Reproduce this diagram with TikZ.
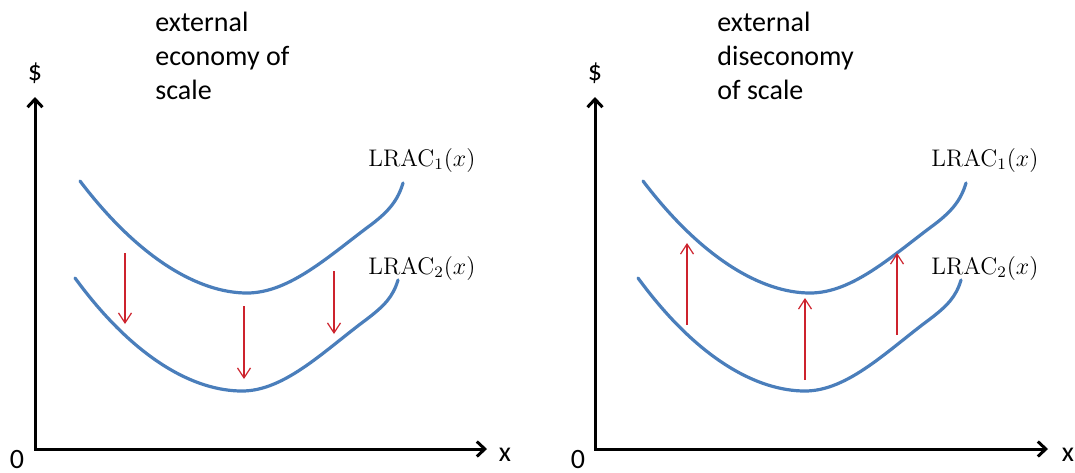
\documentclass[tikz,border=0pt]{standalone}
\usepackage[no-math]{fontspec}
\setmainfont{Carlito}
\usetikzlibrary{arrows.meta}
\definecolor{curveblue}{RGB}{74,126,187}
\definecolor{arrowred}{RGB}{205,35,45}
\tikzset{
  axisline/.style={line width=1.5pt,-{Straight Barb[length=4pt,width=7.5pt,line width=1.5pt]}},
  costcurve/.style={curveblue,line width=1.6pt,line cap=round},
  shiftarrow/.style={arrowred,line width=0.6pt,-{Straight Barb[length=5pt,width=6.5pt,line width=0.6pt]}},
  titletext/.style={font=\fontsize{14}{17}\selectfont,align=left,anchor=north west,inner sep=0pt},
  axlabel/.style={font=\fontsize{14}{17}\selectfont,inner sep=0pt},
  curvelabel/.style={font=\fontsize{11.5}{14}\selectfont,anchor=west,inner sep=0pt}
}
\newcommand{\upperLRAC}{(80,181) .. controls (140,260) and (200,293) .. (247,293) .. controls (290,293) and (330,255) .. (372,224) .. controls (389,211) and (398,200) .. (403,183)}
\newcommand{\lowerLRAC}{(75,278) .. controls (135,360) and (195,391) .. (242,391) .. controls (285,391) and (325,350) .. (367,319) .. controls (384,306) and (393,297) .. (398,280)}
\begin{document}
\begin{tikzpicture}[x=0.5pt,y=-0.5pt]
\useasboundingbox (0,0) rectangle (1075,472);
% ---------- left panel ----------
\coordinate (O1) at (35,450);
\coordinate (Y1) at (35,97);
\coordinate (X1) at (487,449);
\coordinate (O1h) at (34,449);
\draw[axisline] (O1) -- (Y1);
\draw[axisline] (O1h) -- (X1);
\node[axlabel] (dol1) at (35,73) {\$};
\node[axlabel] (zero1) at (17,459) {0};
\node[axlabel] (xl1) at (505,455) {x};
\node[titletext] (t1) at (155,12) {external\\economy of\\scale};
\draw[costcurve] \upperLRAC;
\draw[costcurve] \lowerLRAC;
\node[curvelabel] (c11) at (368,160) {$\mathrm{LRAC}_1(x)$};
\node[curvelabel] (c12) at (368,268) {$\mathrm{LRAC}_2(x)$};
\coordinate (a1s) at (125,253); \coordinate (a1e) at (125,324);
\coordinate (a2s) at (244,306); \coordinate (a2e) at (244,379);
\coordinate (a3s) at (334,271); \coordinate (a3e) at (334,334);
\draw[shiftarrow] (a1s) -- (a1e);
\draw[shiftarrow] (a2s) -- (a2e);
\draw[shiftarrow] (a3s) -- (a3e);
% ---------- right panel ----------
\coordinate (O2) at (595,450);
\coordinate (Y2) at (595,97);
\coordinate (X2) at (1048,449);
\coordinate (O2h) at (594,449);
\draw[axisline] (O2) -- (Y2);
\draw[axisline] (O2h) -- (X2);
\node[axlabel] (dol2) at (595,73) {\$};
\node[axlabel] (zero2) at (578,459) {0};
\node[axlabel] (xl2) at (1068,455) {x};
\node[titletext] (t2) at (717,12) {external\\diseconomy\\of scale};
\begin{scope}[xshift=281.5pt]
\draw[costcurve] \upperLRAC;
\draw[costcurve] \lowerLRAC;
\end{scope}
\node[curvelabel] (c21) at (931,160) {$\mathrm{LRAC}_1(x)$};
\node[curvelabel] (c22) at (931,268) {$\mathrm{LRAC}_2(x)$};
\coordinate (b1s) at (687,325); \coordinate (b1e) at (687,243);
\coordinate (b2s) at (805,380); \coordinate (b2e) at (805,298);
\coordinate (b3s) at (897,335); \coordinate (b3e) at (897,253);
\draw[shiftarrow] (b1s) -- (b1e);
\draw[shiftarrow] (b2s) -- (b2e);
\draw[shiftarrow] (b3s) -- (b3e);
\end{tikzpicture}
\end{document}
